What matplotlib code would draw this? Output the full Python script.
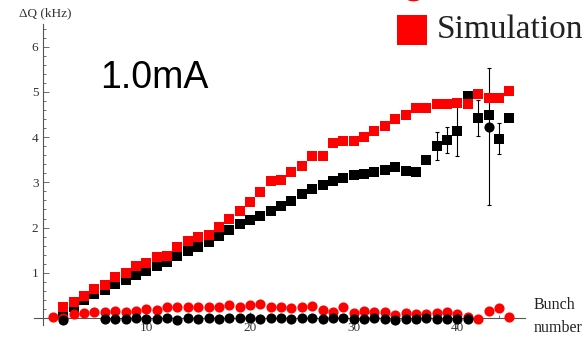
import numpy as np
import matplotlib
matplotlib.use("Agg")
import matplotlib.pyplot as plt

nan = np.nan
bunch = np.arange(1, 46)

# simulation, tune shift (red squares)
sim_shift = [nan, 0.24, 0.36, 0.49, 0.63, 0.73, 0.90, 1.00, 1.14, 1.21,
             1.34, 1.37, 1.58, 1.70, 1.79, 1.84, 2.01, 2.18, 2.37, 2.57,
             2.79, 3.03, 3.05, 3.24, 3.36, 3.59, 3.59, 3.87, 3.92, 3.92,
             4.00, 4.14, 4.25, 4.40, 4.50, 4.64, 4.65, 4.73, 4.74, 4.75,
             4.73, 4.95, 4.86, 4.86, 5.03]

# measurement, tune shift (black squares)
meas_shift = [nan, 0.10, 0.25, 0.40, 0.52, 0.62, 0.75, 0.85, 0.95, 1.04,
              1.14, 1.24, 1.37, 1.48, 1.58, 1.67, 1.81, 1.95, 2.07, 2.17,
              2.25, 2.37, 2.48, 2.59, 2.74, 2.85, 2.94, 3.02, 3.10, 3.17,
              3.19, 3.23, 3.28, 3.33, 3.26, 3.23, 3.50, 3.81, 3.94, 4.14,
              4.91, 4.42, 4.49, 3.97, 4.42]
meas_err = [0, 0, 0, 0, 0, 0, 0, 0, 0, 0,
            0, 0, 0, 0, 0, 0, 0, 0, 0, 0,
            0, 0, 0, 0, 0, 0, 0, 0, 0, 0,
            0, 0, 0, 0, 0, 0, 0, 0.31, 0.29, 0.55,
            0, 0.40, 0, 0.34, 0]

# simulation, second set (red circles)
sim_low = [0.02, 0.0, 0.08, 0.10, 0.13, 0.14, 0.15, 0.14, 0.15, 0.19,
           0.18, 0.24, 0.24, 0.24, 0.25, 0.25, 0.25, 0.29, 0.24, 0.29,
           0.30, 0.25, 0.25, 0.21, 0.24, 0.27, 0.18, 0.14, 0.24, 0.12,
           0.16, 0.14, 0.14, 0.07, 0.12, 0.09, 0.09, 0.12, 0.14, 0.09,
           0.03, -0.02, 0.16, 0.21, 0.03]

# measurement, second set (black circles)
meas_low = [nan, -0.05, nan, nan, nan, -0.02, -0.03, -0.02, -0.01, -0.02,
            -0.03, -0.01, -0.04, 0.0, -0.02, -0.01, -0.02, 0.0, -0.01, -0.01,
            -0.02, 0.0, -0.01, -0.02, -0.01, 0.0, -0.02, -0.01, -0.01, -0.02,
            -0.02, -0.01, -0.02, -0.04, -0.02, -0.02, -0.01, -0.02, -0.02, -0.03,
            -0.03, nan, 4.23, nan, nan]
low_err_minus = 1.73
low_err_plus = 1.29

serif = "Liberation Serif"

fig = plt.figure(figsize=(5.85, 3.43), dpi=100)
ax = fig.add_axes([0.0586, 0.0519, 0.8385, 0.8776])

ax.errorbar(bunch, meas_shift, yerr=meas_err, fmt="none", ecolor="black",
            elinewidth=0.8, capsize=1.5, capthick=0.8, zorder=2)
ax.plot(bunch, meas_shift, "s", color="black", ms=6.5, mew=0, zorder=3)
ax.plot(bunch, sim_shift, "s", color="#ff0000", ms=6.5, mew=0, zorder=4)
ax.plot(bunch, sim_low, "o", color="#ff0000", ms=7.3, mew=0, zorder=5, clip_on=False)
ax.errorbar([43], [meas_low[42]], yerr=[[low_err_minus], [low_err_plus]],
            fmt="none", ecolor="black", elinewidth=0.8, capsize=1.5,
            capthick=0.8, zorder=2)
ax.plot(bunch, meas_low, "o", color="black", ms=7.3, mew=0, zorder=6, clip_on=False)

ax.set_xlim(-0.8, 46.5)
ax.set_ylim(-0.16, 6.5)
ax.spines["left"].set_position(("data", 0))
ax.spines["bottom"].set_position(("data", 0))
ax.spines["right"].set_visible(False)
ax.spines["top"].set_visible(False)
for s in ("left", "bottom"):
    ax.spines[s].set_color("#555555")
    ax.spines[s].set_linewidth(0.8)

ax.set_xticks([10, 20, 30, 40])
ax.set_xticks(np.arange(2, 46, 2), minor=True)
ax.set_yticks([1, 2, 3, 4, 5, 6])
ax.set_yticks(np.arange(0.2, 6.5, 0.2), minor=True)
ax.tick_params(which="both", direction="in", color="#555555", width=0.6)
ax.tick_params(which="major", length=4, labelsize=9.5, labelcolor="#333333", pad=3)
ax.tick_params(which="minor", length=2)
for lab in ax.get_xticklabels() + ax.get_yticklabels():
    lab.set_fontfamily(serif)

fig.text(45 / 585, 1 - 13 / 343, "ΔQ (kHz)", ha="center", va="center",
         fontsize=9.5, family=serif, color="#333333")
fig.text(534 / 585, 1 - 305 / 343, "Bunch", ha="left", va="center",
         fontsize=11.5, family=serif, color="#222222")
fig.text(534 / 585, 1 - 328 / 343, "number", ha="left", va="center",
         fontsize=11.5, family=serif, color="#222222")

fig.text(100 / 585, 1 - 88 / 343, "1.0mA", ha="left", va="baseline",
         fontsize=27, family="Liberation Sans", color="black")

# legend at the top right
fig.add_artist(plt.Line2D([413 / 585], [1 + 13 / 343], marker="o", ms=20,
                          color="#ff0000", mew=0, transform=fig.transFigure))
fig.add_artist(plt.Line2D([412 / 585], [1 - 30 / 343], marker="s", ms=21,
                          color="#ff0000", mew=0, transform=fig.transFigure))
fig.text(437 / 585, 1 - 38 / 343, "Simulation", ha="left", va="baseline",
         fontsize=24, family=serif, color="#222222")

fig.savefig("out.png", dpi=100)
